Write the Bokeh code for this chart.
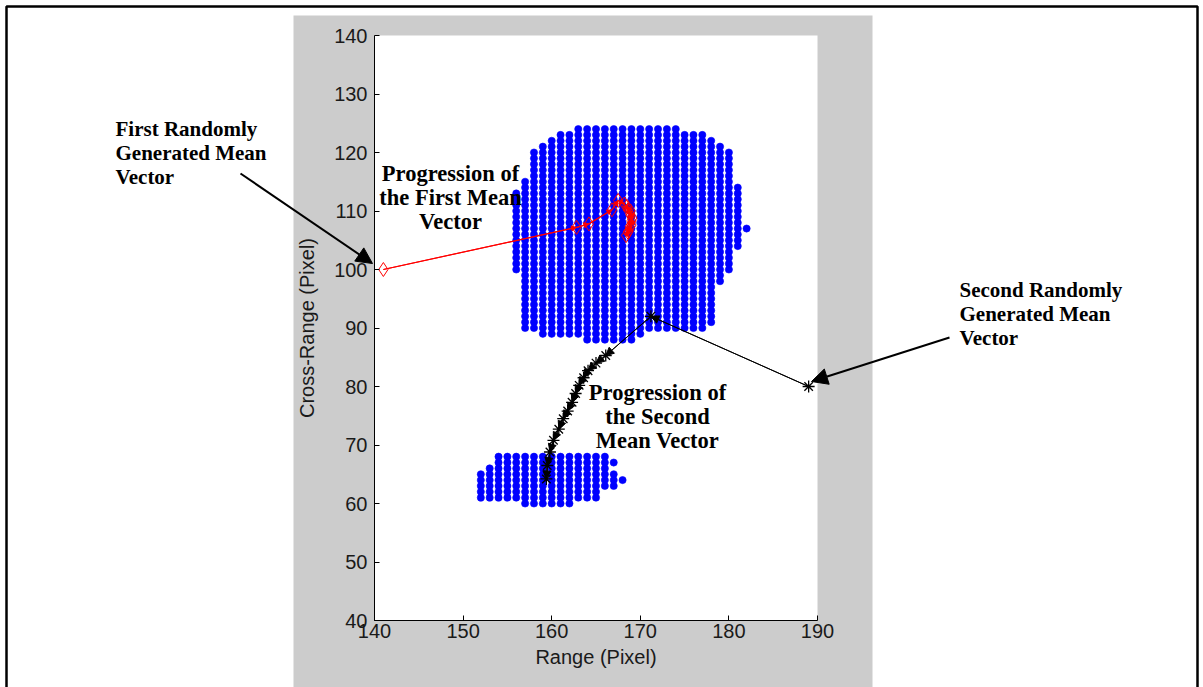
import numpy as np
from bokeh.plotting import figure
from bokeh.models import (Range1d, Label, Arrow, NormalHead, BoxAnnotation,
                          FixedTicker, ColumnDataSource, LinearAxis)
from bokeh.embed import file_html
from bokeh.resources import INLINE

# ---------------- data ----------------
# large cluster: per row (cross-range) the first and last range pixel
big_row_y  = [124,123,122,121,120,119,118,117,116,115,114,113,112,111,110,109,108,107,106,105,104,103,102,101,100,99,98,97,96,95,94,93,92,91,90,89,88]
big_row_x0 = [163,161,160,159,158,158,158,158,158,157,157,156,156,156,156,156,156,156,156,156,156,156,156,156,156,157,157,157,157,157,157,157,157,157,157,159,164]
big_row_x1 = [174,177,178,179,180,180,180,180,180,180,181,181,181,181,181,181,181,182,181,181,181,180,180,180,180,179,179,178,178,178,178,178,178,178,177,170,169]

# small cluster
small_row_y  = [68,67,66,65,64,63,62,61,60]
small_row_x0 = [154,154,153,152,152,152,152,152,157]
small_row_x1 = [166,167,166,167,168,167,165,165,162]

# progression of the first mean vector (red)
red_x = [141.0, 162.8, 164.2, 166.8, 167.5, 168.2, 168.6, 168.9, 169.0, 168.8, 168.6, 168.4, 168.7, 169.0, 169.1, 168.9, 168.5]
red_y = [100.0, 107.2, 107.8, 110.2, 111.8, 111.2, 110.2, 109.3, 108.3, 107.3, 106.4, 105.8, 106.6, 107.6, 108.8, 110.0, 110.8]

# progression of the second mean vector (black)
blk_x = [189.0, 171.2, 166.1, 165.0, 164.1, 163.6, 163.1, 162.7, 162.3, 161.8, 161.3, 160.8, 160.2, 159.8, 159.5, 159.4]
blk_y = [80.0, 92.0, 85.3, 84.0, 82.7, 81.5, 80.2, 78.8, 77.3, 75.8, 74.5, 72.7, 70.8, 68.8, 66.5, 64.2]

x_ticks = [140, 150, 160, 170, 180, 190]
y_ticks = [40, 50, 60, 70, 80, 90, 100, 110, 120, 130, 140]
x_lo, x_hi = 140, 190
y_lo, y_hi = 40, 140

# callout texts (page annotations)
first_lines = ["First Randomly", "Generated Mean", "Vector"]
second_lines = ["Second Randomly", "Generated Mean", "Vector"]
prog1_lines = ["Progression of", "the First Mean", "Vector"]
prog2_lines = ["Progression of", "the Second", "Mean Vector"]


def expand(rows_y, x0, x1):
    xs, ys = [], []
    for y, a, b in zip(rows_y, x0, x1):
        for x in range(a, b + 1):
            xs.append(x)
            ys.append(y)
    return xs, ys


bx, by = expand(big_row_y, big_row_x0, big_row_x1)
sx, sy = expand(small_row_y, small_row_x0, small_row_x1)

# ---------------- page geometry (pixels) ----------------
W, H = 1203, 687
AX_L, AX_R, AX_T, AX_B = 374, 817, 35, 620      # axes box on the page
kx = (AX_R - AX_L) / (x_hi - x_lo)
ky = (AX_B - AX_T) / (y_hi - y_lo)
xr = Range1d(x_lo - AX_L / kx, x_hi + (W - AX_R) / kx)
yr = Range1d(y_lo - (H - AX_B) / ky, y_hi + AX_T / ky)

p = figure(width=W, height=H, x_range=xr, y_range=yr,
           output_backend="svg", toolbar_location=None,
           x_axis_location=None, y_axis_location=None,
           min_border=0, min_border_left=0, min_border_right=0,
           min_border_top=0, min_border_bottom=0,
           border_fill_color="white", background_fill_color="white",
           outline_line_color=None)
p.grid.visible = False

# gray figure panel, white axes area
p.add_layout(BoxAnnotation(left=293, right=872, top=15, bottom=H + 20,
                           left_units="canvas", right_units="canvas",
                           top_units="canvas", bottom_units="canvas",
                           fill_color="#cccccc", fill_alpha=1, line_color=None,
                           level="image"))
p.add_layout(BoxAnnotation(left=x_lo, right=x_hi, bottom=y_lo, top=y_hi,
                           fill_color="white", fill_alpha=1, line_color=None,
                           level="image"))

# MATLAB-like axes
xa = LinearAxis(fixed_location=y_lo, bounds=(x_lo, x_hi), ticker=FixedTicker(ticks=x_ticks),
                axis_label="Range (Pixel)")
ya = LinearAxis(fixed_location=x_lo, bounds=(y_lo, y_hi), ticker=FixedTicker(ticks=y_ticks),
                axis_label="Cross-Range (Pixel)")
for ax in (xa, ya):
    ax.major_tick_in = 5
    ax.major_tick_out = 0
    ax.minor_tick_line_color = None
    ax.axis_line_color = "black"
    ax.major_tick_line_color = "black"
    ax.major_label_text_font = "Liberation Sans"
    ax.major_label_text_font_size = "20px"
    ax.major_label_text_color = "#1a1a1a"
    ax.axis_label_text_font = "Liberation Sans"
    ax.axis_label_text_font_size = "20px"
    ax.axis_label_text_font_style = "normal"
    ax.axis_label_text_color = "#1a1a1a"
xa.major_label_standoff = 3
ya.major_label_standoff = 7
xa.axis_label_standoff = 5
ya.axis_label_standoff = 13
p.add_layout(xa, "below")
p.add_layout(ya, "left")

# clusters
p.scatter(bx, by, marker="circle", size=7.2, fill_color="#0000ff", line_color="#0000ff", line_width=0.6)
p.scatter(sx, sy, marker="circle", size=7.2, fill_color="#0000ff", line_color="#0000ff", line_width=0.6)

# red trajectory
p.line(red_x, red_y, line_color="#ff0000", line_width=1.2)
red_src = ColumnDataSource(dict(x0=red_x[:-1], y0=red_y[:-1], x1=red_x[1:], y1=red_y[1:]))
p.add_layout(Arrow(source=red_src, x_start="x0", y_start="y0", x_end="x1", y_end="y1",
                   line_color="#ff0000", line_width=1, level="glyph",
                   end=NormalHead(size=5, fill_color="#ff0000", line_color="#ff0000")))
p.scatter(red_x, red_y, marker="diamond", size=14, fill_color=None, line_color="#ff0000", line_width=1)

# black trajectory
p.line(blk_x, blk_y, line_color="black", line_width=1)
blk_src = ColumnDataSource(dict(x0=blk_x[:-1], y0=blk_y[:-1], x1=blk_x[1:], y1=blk_y[1:]))
p.add_layout(Arrow(source=blk_src, x_start="x0", y_start="y0", x_end="x1", y_end="y1",
                   line_color="black", line_width=1, level="glyph",
                   end=NormalHead(size=8, fill_color="black", line_color="black")))
p.scatter(blk_x, blk_y, marker="asterisk", size=12, line_color="black", line_width=1.3)


# callouts
def add_lines(lines, x, baselines, align, size):
    for t, yb in zip(lines, baselines):
        p.add_layout(Label(x=x, y=yb, x_units="canvas", y_units="canvas", text=t,
                           text_font="Liberation Serif", text_font_style="bold",
                           text_font_size=size, text_color="black",
                           text_align=align, text_baseline="alphabetic"))


add_lines(first_lines, 115, [128, 152, 176], "left", "21px")
add_lines(second_lines, 959, [289, 313, 337], "left", "21px")
add_lines(prog1_lines, 450, [173, 197, 221], "center", "22.5px")
add_lines(prog2_lines, 657, [392, 416, 440], "center", "22.5px")

p.add_layout(Arrow(x_start=240, y_start=173, x_end=372, y_end=263,
                   start_units="canvas", end_units="canvas",
                   line_color="black", line_width=2,
                   end=NormalHead(size=16, fill_color="black", line_color="black")))
p.add_layout(Arrow(x_start=949, y_start=337, x_end=811, y_end=381,
                   start_units="canvas", end_units="canvas",
                   line_color="black", line_width=2,
                   end=NormalHead(size=16, fill_color="black", line_color="black")))

# outer page frame
p.add_layout(BoxAnnotation(left=6, right=1197, top=6, bottom=H + 20,
                           left_units="canvas", right_units="canvas",
                           top_units="canvas", bottom_units="canvas",
                           fill_alpha=0, line_color="black", line_alpha=1, line_width=2.5,
                           level="overlay"))

open("out.html", "w").write(file_html(p, INLINE))
